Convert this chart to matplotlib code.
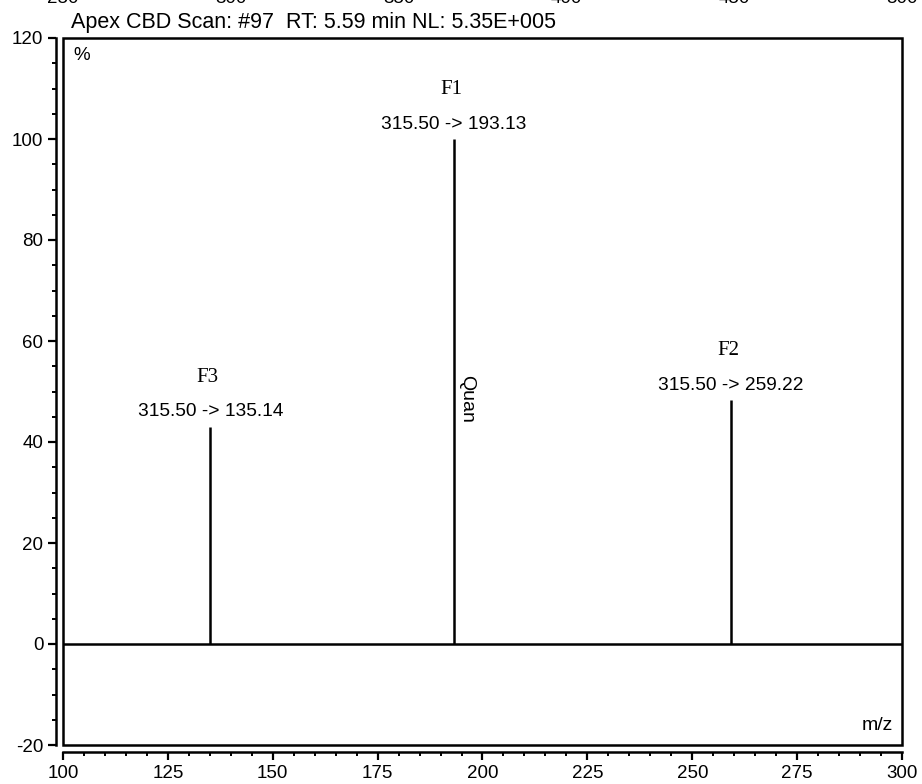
import matplotlib
matplotlib.use("Agg")
import matplotlib.pyplot as plt
from matplotlib.patches import Rectangle
from matplotlib.ticker import MultipleLocator
import matplotlib.transforms as mtransforms

plt.rcParams['font.family'] = ['Liberation Sans', 'DejaVu Sans']
plt.rcParams['axes.unicode_minus'] = False

# Data
peak_mz = [135.14, 193.13, 259.22]
peak_rel = [43.0, 100.0, 48.3]
peak_names = ["F3", "F1", "F2"]
peak_labels = ["315.50 -> 135.14", "315.50 -> 193.13", "315.50 -> 259.22"]
quan_mz = 193.13
title = "Apex CBD Scan: #97  RT: 5.59 min NL: 5.35E+005"
upper_ticks = [250, 300, 350, 400, 450, 500]  # cut-off axis of panel above

W, H = 922, 784
fig = plt.figure(figsize=(W / 100, H / 100), dpi=100)
ax = fig.add_axes([63 / W, (H - 745) / H, (902 - 63) / W, (745 - 38) / H])
ax.set_xlim(100, 300)
ax.set_ylim(-20, 120)

lw = 1.8
# box
ax.add_patch(Rectangle((0, 0), 1, 1, transform=ax.transAxes, fill=False,
                       lw=lw, ec='black', clip_on=False, zorder=5))
for s in ['top', 'right']:
    ax.spines[s].set_visible(False)
for s in ['left', 'bottom']:
    ax.spines[s].set_position(('outward', 5.2))
    ax.spines[s].set_linewidth(lw)

ax.xaxis.set_major_locator(MultipleLocator(25))
ax.xaxis.set_minor_locator(MultipleLocator(5))
ax.yaxis.set_major_locator(MultipleLocator(20))
ax.yaxis.set_minor_locator(MultipleLocator(5))
ax.tick_params(which='major', length=6, width=1.6, labelsize=13.5, direction='out', pad=3)
ax.tick_params(which='minor', length=3.2, width=1.4, direction='out')

# zero baseline
ax.axhline(0, color='black', lw=lw, zorder=3)

# stick peaks
ax.vlines(peak_mz, 0, peak_rel, colors='black', lw=lw, zorder=4)
for mz, h, nm, lab in zip(peak_mz, peak_rel, peak_names, peak_labels):
    ax.annotate(lab, xy=(mz, h), xytext=(0, 7.5), textcoords='offset points',
                ha='center', va='baseline', fontsize=13.8)
    ax.annotate(nm, xy=(mz, h), xytext=(-2, 32.5), textcoords='offset points',
                ha='center', va='baseline', fontsize=15,
                family=['Liberation Serif', 'DejaVu Serif'])

# Quan label (rotated)
ax.annotate("Quan", xy=(quan_mz, 48.5), xytext=(9.5, 0), textcoords='offset points',
            rotation=270, ha='center', va='center', fontsize=14)

ax.text((82 - 63) / 839, 1 - 18 / 707, "%", transform=ax.transAxes, ha='center',
        va='center', fontsize=13.5)
ax.text((877 - 63) / 839, 1 - (725 - 38) / 707, "m/z", transform=ax.transAxes,
        ha='center', va='center', fontsize=14)

# title
fig.text(71 / W, 1 - 28 / H, title, ha='left', va='baseline', fontsize=15.5)

# cut-off tick labels of the panel above
trans = mtransforms.blended_transform_factory(ax.transAxes, fig.transFigure)
for v in upper_ticks:
    fig.text((v - 250) / 250, 1 - 3 / H, str(v), transform=trans,
             ha='center', va='baseline', fontsize=13.5)

fig.savefig("out.png", dpi=100)
